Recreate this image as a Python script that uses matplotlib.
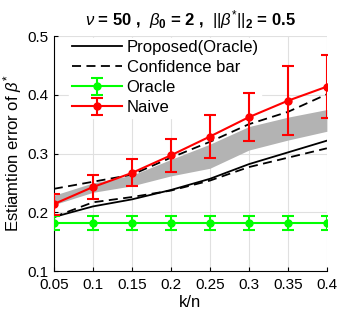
import matplotlib.pyplot as plt
import numpy as np

plt.rcParams['font.family'] = ['Liberation Sans', 'DejaVu Sans']
plt.rcParams['mathtext.fontset'] = 'custom'
plt.rcParams['mathtext.rm'] = 'Liberation Sans'
plt.rcParams['mathtext.it'] = 'Liberation Sans:italic'
plt.rcParams['mathtext.bf'] = 'Liberation Sans:bold'

kn = [0.05, 0.1, 0.15, 0.2, 0.25, 0.3, 0.35, 0.4]

proposed = [0.192, 0.210, 0.222, 0.238, 0.257, 0.282, 0.302, 0.322]
conf_upper = [0.240, 0.252, 0.264, 0.293, 0.320, 0.350, 0.371, 0.401]
conf_lower = [0.192, 0.217, 0.226, 0.237, 0.254, 0.277, 0.293, 0.309]
band_upper = [0.229, 0.250, 0.263, 0.290, 0.316, 0.346, 0.362, 0.375]
band_lower = [0.213, 0.234, 0.245, 0.262, 0.275, 0.306, 0.323, 0.338]

oracle = [0.182, 0.182, 0.182, 0.182, 0.182, 0.182, 0.182, 0.182]
oracle_err = [0.012, 0.012, 0.012, 0.012, 0.012, 0.012, 0.012, 0.012]
naive = [0.214, 0.243, 0.267, 0.297, 0.329, 0.362, 0.390, 0.414]
naive_err = [0.018, 0.021, 0.023, 0.028, 0.037, 0.041, 0.059, 0.054]

fig = plt.figure(figsize=(3.43, 3.17), dpi=100)
ax = fig.add_axes([0.157, 0.145, 0.796, 0.741])

ax.fill_between(kn, band_lower, band_upper, color='#b3b3b3', lw=0, zorder=1)
ax.plot(kn, proposed, 'k-', lw=1.3, label='Proposed(Oracle)', zorder=3)
ax.plot(kn, conf_upper, color='k', ls=(0, (5, 3)), lw=1.3, label='Confidence bar', zorder=3)
ax.plot(kn, conf_lower, color='k', ls=(0, (5, 3)), lw=1.3, zorder=3)
ax.errorbar(kn, oracle, yerr=oracle_err, color='#00ff00', marker='o', ms=5,
            lw=1.5, capsize=4, capthick=1.5, label='Oracle', zorder=4)
ax.errorbar(kn, naive, yerr=naive_err, color='red', marker='o', ms=5,
            lw=1.5, capsize=4, capthick=1.5, label='Naive', zorder=5)

ax.set_xlim(0.05, 0.4)
ax.set_ylim(0.1, 0.5)
ax.set_xticks(kn)
ax.set_xticklabels(['0.05', '0.1', '0.15', '0.2', '0.25', '0.3', '0.35', '0.4'])
ax.set_yticks([0.1, 0.2, 0.3, 0.4, 0.5])
ax.grid(True, color='#e0e0e0', lw=0.8)
ax.set_axisbelow(True)
ax.spines['top'].set_visible(False)
ax.spines['right'].set_visible(False)
ax.tick_params(direction='in', labelsize=11, length=3, pad=5)
ax.tick_params(axis='y', pad=4)
ax.set_xlabel('k/n', fontsize=12, labelpad=2)
ax.set_ylabel(r'Estiamtion error of $\beta^{*}$', fontsize=12, labelpad=2)
ax.set_title(r'$\nu$ = 50 ,  $\beta_{\mathbf{0}}$ = 2 ,  $||\beta^{*}||_{\mathbf{2}}$ = 0.5',
             fontsize=12, fontweight='bold', pad=8)
leg = ax.legend(loc='upper left', bbox_to_anchor=(0.05, 1.0), fontsize=12,
                frameon=True, fancybox=False, borderaxespad=0.1,
                handlelength=3.0, labelspacing=0.3, borderpad=0.15,
                handletextpad=0.3)
leg.get_frame().set_edgecolor('white')
leg.get_frame().set_alpha(1)
leg.set_zorder(2.5)

fig.savefig('out.png', dpi=100)
